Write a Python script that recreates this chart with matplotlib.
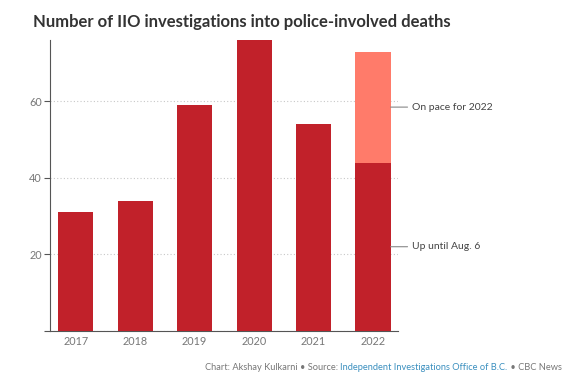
import matplotlib.pyplot as plt
import numpy as np

years = ["2017", "2018", "2019", "2020", "2021", "2022"]
counts = [31, 34, 59, 76, 54, 44]
pace_2022 = 73  # projected full-year total for 2022

plt.rcParams['font.family'] = ['Lato', 'DejaVu Sans']

fig = plt.figure(figsize=(5.76, 3.79), dpi=100)
ax = fig.add_axes([0.087, 0.127, 0.604, 0.767])

x = np.arange(len(years))
dark_red = "#c1212a"
light_red = "#ff7b6a"

ax.bar(x, counts, width=0.59, color=dark_red, zorder=3)
# projected remainder on top of the 2022 bar
ax.bar(x[-1], pace_2022 - counts[-1], bottom=counts[-1], width=0.59,
       color=light_red, zorder=3)

ax.set_xlim(-0.43, 5.42)
ax.set_ylim(0, 76)
ax.set_yticks([0, 20, 40, 60])
ax.set_yticklabels(["", "20", "40", "60"])
ax.set_xticks(x)
ax.set_xticklabels(years)
ax.grid(axis="y", linestyle=(0, (1, 2)), color="#c8c8c8", linewidth=0.8, zorder=0)

for s in ["top", "right"]:
    ax.spines[s].set_visible(False)
ax.spines["left"].set_color("#555555")
ax.spines["bottom"].set_color("#555555")
ax.tick_params(axis="y", length=4, color="#555555", labelcolor="#777777", labelsize=7.8, pad=2)
ax.tick_params(axis="x", length=0, labelcolor="#777777", labelsize=7.8, pad=4)

# annotations for the 2022 bar
mid_pace = (counts[-1] + pace_2022) / 2
mid_now = counts[-1] / 2
for yv, txt in [(mid_pace, "On pace for 2022"), (mid_now, "Up until Aug. 6")]:
    ax.annotate(txt, xy=(x[-1] + 0.295, yv), xytext=(x[-1] + 0.65, yv),
                va="center", ha="left", fontsize=7.5, color="#444444",
                arrowprops=dict(arrowstyle="-", color="#888888", lw=0.8,
                                shrinkA=1, shrinkB=0),
                annotation_clip=False)

fig.text(0.057, 0.942, "Number of IIO investigations into police-involved deaths",
         fontsize=12, fontweight="bold", color="#333333", va="center")

# footer with coloured source name
parts = [("Chart: Akshay Kulkarni \u2022 Source: ", "#777777"),
         ("Independent Investigations Office of B.C.", "#3a8fbf"),
         (" \u2022 CBC News", "#777777")]
fig.canvas.draw()
r = fig.canvas.get_renderer()
xpos = 205 / 576
for txt, col in parts:
    t = fig.text(xpos, 1 - 367 / 379, txt, fontsize=6.7, color=col, va="center")
    bb = t.get_window_extent(renderer=r)
    xpos += bb.width / fig.bbox.width

fig.savefig("out.png", dpi=100)
